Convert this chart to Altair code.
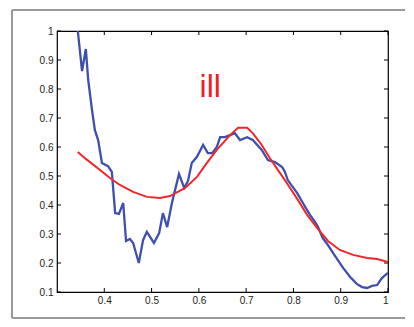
import altair as alt
import pandas as pd

# ---- data ----
blue_x = [0.344, 0.353, 0.361, 0.366, 0.374, 0.380, 0.387, 0.395, 0.408, 0.416,
          0.423, 0.431, 0.440, 0.446, 0.454, 0.461, 0.473, 0.482, 0.490, 0.505,
          0.516, 0.524, 0.533, 0.543, 0.558, 0.569, 0.577, 0.585, 0.596, 0.609,
          0.619, 0.628, 0.638, 0.645, 0.655, 0.666, 0.676, 0.687, 0.702, 0.714,
          0.733, 0.746, 0.761, 0.776, 0.782, 0.788, 0.808, 0.820, 0.835, 0.846,
          0.852, 0.862, 0.873, 0.884, 0.894, 0.905, 0.920, 0.934, 0.945, 0.956,
          0.966, 0.977, 0.987, 1.000]
blue_y = [1.000, 0.862, 0.938, 0.831, 0.728, 0.659, 0.624, 0.545, 0.534, 0.514,
          0.372, 0.369, 0.407, 0.276, 0.283, 0.269, 0.200, 0.279, 0.307, 0.269,
          0.303, 0.372, 0.324, 0.407, 0.507, 0.459, 0.483, 0.545, 0.566, 0.607,
          0.579, 0.579, 0.600, 0.634, 0.634, 0.641, 0.648, 0.624, 0.634, 0.624,
          0.590, 0.555, 0.548, 0.531, 0.514, 0.486, 0.441, 0.407, 0.366, 0.341,
          0.324, 0.286, 0.262, 0.234, 0.210, 0.183, 0.152, 0.128, 0.117, 0.114,
          0.121, 0.124, 0.148, 0.166]

red_x = [0.344, 0.361, 0.391, 0.412, 0.433, 0.461, 0.490, 0.518, 0.539, 0.571,
         0.596, 0.617, 0.638, 0.666, 0.683, 0.702, 0.714, 0.733, 0.750, 0.767,
         0.786, 0.808, 0.829, 0.850, 0.873, 0.898, 0.926, 0.956, 0.977, 1.000]
red_y = [0.583, 0.559, 0.521, 0.493, 0.469, 0.445, 0.428, 0.424, 0.431, 0.459,
         0.497, 0.545, 0.590, 0.641, 0.666, 0.666, 0.648, 0.607, 0.562, 0.521,
         0.476, 0.421, 0.366, 0.321, 0.276, 0.245, 0.228, 0.217, 0.214, 0.203]

x_ticks = [0.4, 0.5, 0.6, 0.7, 0.8, 0.9, 1.0]
y_ticks = [0.1, 0.2, 0.3, 0.4, 0.5, 0.6, 0.7, 0.8, 0.9, 1.0]

label_text = ["ill"]
label_x = [0.624]
label_y = [0.772]

# ---- chart ----
W, H = 331, 261
FONT = "Liberation Sans"
xs = alt.Scale(domain=[0.3, 1.0], nice=False, zero=False)
ys = alt.Scale(domain=[0.1, 1.0], nice=False, zero=False)

x_axis = alt.Axis(values=x_ticks, format=".1~f", title=None, grid=False,
                  ticks=False, domain=False, labelPadding=3, labelFontSize=10,
                  labelFont=FONT, labelColor="#222")
y_axis = alt.Axis(values=y_ticks, format=".1~f", title=None, grid=False,
                  ticks=False, domain=False, labelPadding=4, labelFontSize=10,
                  labelFont=FONT, labelColor="#222")

X = lambda f: alt.X(f, type="quantitative", scale=xs, axis=x_axis)
Y = lambda f: alt.Y(f, type="quantitative", scale=ys, axis=y_axis)

blue_df = pd.DataFrame({"x": blue_x, "y": blue_y})
red_df = pd.DataFrame({"x": red_x, "y": red_y})

blue = alt.Chart(blue_df).mark_line(color="#3F4FAE", strokeWidth=2.3, clip=True).encode(
    x=X("x"), y=Y("y"))
red = alt.Chart(red_df).mark_line(color="#F0262C", strokeWidth=2.0, clip=True).encode(
    x=X("x"), y=Y("y"))

xt = pd.DataFrame({"v": x_ticks})
yt = pd.DataFrame({"v": y_ticks})
TL = 4
xt_bottom = alt.Chart(xt).mark_rule(color="black", strokeWidth=1).encode(
    x=X("v"), y=alt.value(H), y2=alt.value(H - TL))
xt_top = alt.Chart(xt).mark_rule(color="black", strokeWidth=1).encode(
    x=X("v"), y=alt.value(0), y2=alt.value(TL))
yt_left = alt.Chart(yt).mark_rule(color="black", strokeWidth=1).encode(
    y=Y("v"), x=alt.value(0), x2=alt.value(TL))
yt_right = alt.Chart(yt).mark_rule(color="black", strokeWidth=1).encode(
    y=Y("v"), x=alt.value(W), x2=alt.value(W - TL))

one = pd.DataFrame({"a": [0]})
FC = "#9a9a9a"
frame_left = alt.Chart(one).mark_rule(color=FC, strokeWidth=2).encode(
    x=alt.value(-45), y=alt.value(-21), y2=alt.value(H + 26))
frame_top = alt.Chart(one).mark_rule(color=FC, strokeWidth=2).encode(
    x=alt.value(-45), x2=alt.value(W + 17), y=alt.value(-21))
frame_bottom = alt.Chart(one).mark_rule(color=FC, strokeWidth=2).encode(
    x=alt.value(-45), x2=alt.value(W + 17), y=alt.value(H + 26))

txt = alt.Chart(pd.DataFrame({"t": label_text, "x": label_x, "y": label_y})).mark_text(
    font=FONT, fontSize=32, color="#EE1D25", align="center", baseline="alphabetic").encode(
    x=X("x"), y=Y("y"), text="t:N")

chart = alt.layer(frame_left, frame_top, frame_bottom, xt_bottom, xt_top, yt_left, yt_right,
                  blue, red, txt).properties(
    width=W, height=H,
    autosize=alt.AutoSizeParams(type="none"),
    padding={"left": 49, "top": 23, "right": 18, "bottom": 28},
    background="white",
).configure_view(stroke="black", strokeWidth=1.2)

chart.save("out.html", embed_options={"renderer": "svg", "actions": False})
